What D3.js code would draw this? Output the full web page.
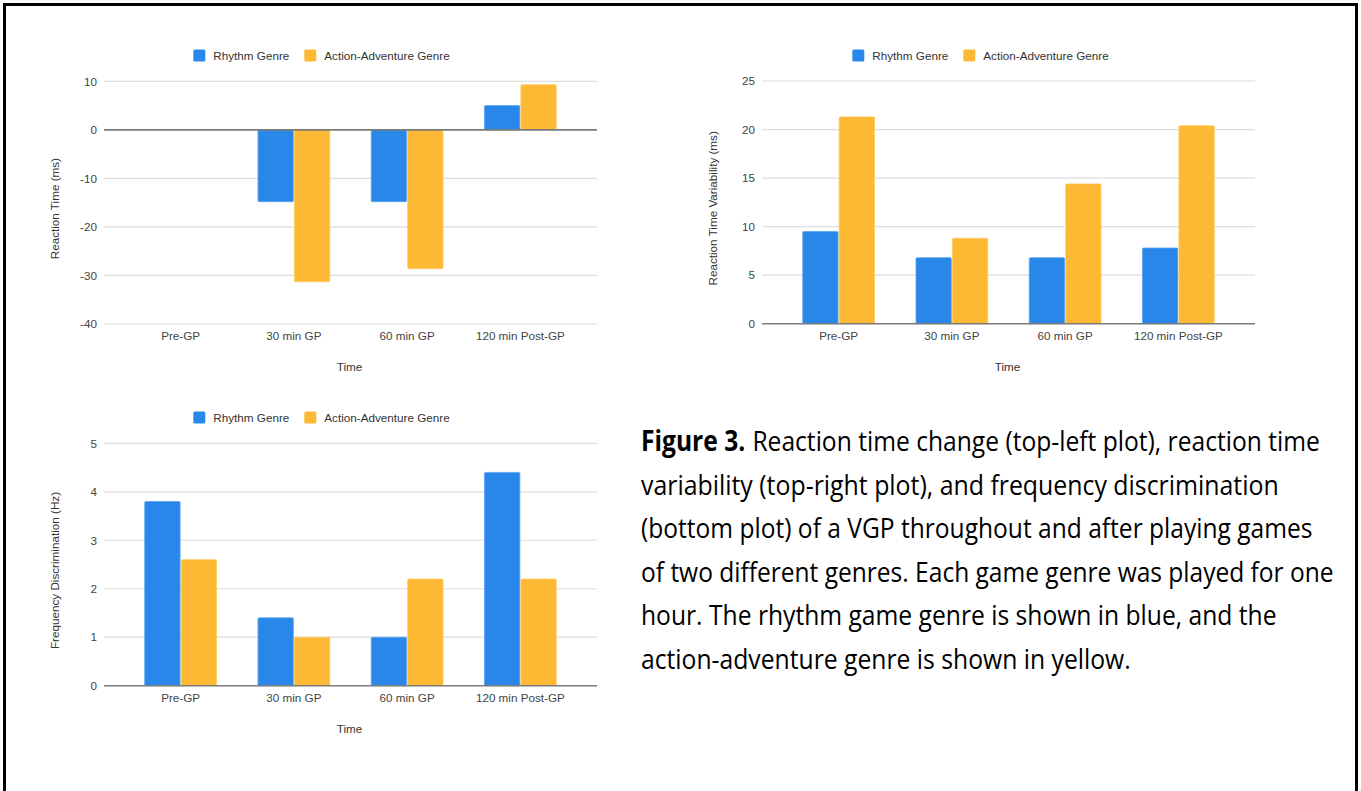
<!DOCTYPE html>
<html>
<head>
<meta charset="utf-8">
<script src="https://cdn.jsdelivr.net/npm/d3@7"></script>
<style>
  html, body { margin: 0; padding: 0; background: #fff; }
  svg { display: block; }
</style>
</head>
<body>
<svg id="fig" width="1361" height="791"></svg>
<script>
// ---------------- DATA ----------------
const categories = ["Pre-GP", "30 min GP", "60 min GP", "120 min Post-GP"];
const seriesNames = ["Rhythm Genre", "Action-Adventure Genre"];
const seriesColors = ["#2a87ea", "#fdb933"];

// Reaction time change (ms)
const rtRhythm = [0, -14.8, -14.8, 5.0];
const rtAction = [0, -31.3, -28.6, 9.3];
const rtTicks = [-40, -30, -20, -10, 0, 10];

// Reaction time variability (ms)
const rtvRhythm = [9.5, 6.8, 6.8, 7.8];
const rtvAction = [21.3, 8.8, 14.4, 20.4];
const rtvTicks = [0, 5, 10, 15, 20, 25];

// Frequency discrimination (Hz)
const fdRhythm = [3.8, 1.4, 1.0, 4.4];
const fdAction = [2.6, 1.0, 2.2, 2.2];
const fdTicks = [0, 1, 2, 3, 4, 5];

const xTitle = "Time";
const captionBold = "Figure 3.";
const captionLines = [
  "Reaction time change (top-left plot), reaction time",
  "variability (top-right plot), and frequency discrimination",
  "(bottom plot) of a VGP throughout and after playing games",
  "of two different genres. Each game genre was played for one",
  "hour. The rhythm game genre is shown in blue, and the",
  "action-adventure genre is shown in yellow."
];

// ---------------- DRAW ----------------
const svg = d3.select("#fig");
const FONT = "'Liberation Sans', Arial, Helvetica, sans-serif";
const FS = 11.7;

function drawChart(cfg) {
  const g = svg.append("g");
  const y = d3.scaleLinear().domain([cfg.ticks[0], cfg.ticks[cfg.ticks.length - 1]])
    .range([cfg.bottom, cfg.top]);
  const x0 = d3.scaleBand().domain(categories)
    .range([cfg.left + 20, cfg.right - 20])
    .paddingInner(0.366).paddingOuter(0.183);
  const x1 = d3.scaleBand().domain(seriesNames).range([0, x0.bandwidth()]).paddingInner(0.028);

  // gridlines
  g.append("g").selectAll("line").data(cfg.ticks.filter(t => t !== 0)).join("line")
    .attr("x1", cfg.left).attr("x2", cfg.right)
    .attr("y1", d => y(d)).attr("y2", d => y(d))
    .attr("stroke", "#dedede").attr("stroke-width", 1.2);

  // y axis labels
  const yAxis = d3.axisLeft(y).tickValues(cfg.ticks).tickFormat(d => String(d))
    .tickSize(0).tickPadding(7);
  const ya = g.append("g").attr("transform", `translate(${cfg.left},0)`).call(yAxis);
  ya.select(".domain").remove();
  ya.selectAll("text").attr("font-family", FONT).attr("font-size", FS).attr("fill", "#444");

  // bars
  const rows = categories.map((c, i) => ({ cat: c, vals: [cfg.a[i], cfg.b[i]] }));
  g.append("g").selectAll("g").data(rows).join("g")
    .attr("transform", d => `translate(${x0(d.cat)},0)`)
    .selectAll("rect").data(d => d.vals.map((v, k) => ({ v, k })).filter(e => e.v !== 0)).join("rect")
    .attr("x", d => x1(seriesNames[d.k]))
    .attr("width", x1.bandwidth())
    .attr("y", d => Math.min(y(d.v), y(0)))
    .attr("height", d => Math.abs(y(d.v) - y(0)))
    .attr("rx", 1.2)
    .attr("fill", d => seriesColors[d.k])
    .attr("stroke", d => d.k === 0 ? "#5aa3f0" : "#fecb63")
    .attr("stroke-width", 0.8);

  // zero line
  g.append("line").attr("x1", cfg.left).attr("x2", cfg.right)
    .attr("y1", y(0)).attr("y2", y(0))
    .attr("stroke", "#7b7b7b").attr("stroke-width", 1.6);

  // x labels
  const xAxis = d3.axisBottom(x0).tickSize(0).tickPadding(0);
  const xa = g.append("g").attr("transform", `translate(0,${cfg.xLabelY})`).call(xAxis);
  xa.select(".domain").remove();
  xa.selectAll("text").attr("font-family", FONT).attr("font-size", FS).attr("fill", "#444")
    .attr("dy", "0.35em").attr("y", 0);

  // x title
  g.append("text").attr("x", (cfg.left + cfg.right) / 2 - 1).attr("y", cfg.xTitleY)
    .attr("dy", "0.35em").attr("text-anchor", "middle")
    .attr("font-family", FONT).attr("font-size", FS).attr("fill", "#333").text(xTitle);

  // y title
  g.append("text")
    .attr("transform", `translate(${cfg.yTitleX},${(cfg.top + cfg.bottom) / 2 + 6}) rotate(-90)`)
    .attr("dy", "0.35em").attr("text-anchor", "middle")
    .attr("font-family", FONT).attr("font-size", FS).attr("fill", "#333").text(cfg.yTitle);

  // legend
  const lg = g.append("g");
  let cx = 0;
  seriesNames.forEach((name, k) => {
    const it = lg.append("g").attr("transform", `translate(${cx},0)`);
    it.append("rect").attr("x", 0).attr("y", -6).attr("width", 12).attr("height", 12)
      .attr("rx", 1.5).attr("fill", seriesColors[k]);
    const t = it.append("text").attr("x", 20).attr("y", 0).attr("dy", "0.35em")
      .attr("font-family", FONT).attr("font-size", FS).attr("fill", "#333").text(name);
    const w = t.node().getComputedTextLength();
    cx += 20 + w + (k < seriesNames.length - 1 ? 15 : 0);
  });
  lg.attr("transform", `translate(${cfg.legendCx - cx / 2},${cfg.legendY})`);
}

drawChart({
  a: rtRhythm, b: rtAction, ticks: rtTicks,
  left: 104, right: 597, top: 81.3, bottom: 324,
  legendY: 55.5, legendCx: 321.5, xLabelY: 336, xTitleY: 367, yTitleX: 55,
  yTitle: "Reaction Time (ms)"
});
drawChart({
  a: rtvRhythm, b: rtvAction, ticks: rtvTicks,
  left: 762, right: 1255, top: 81, bottom: 323.7,
  legendY: 55.5, legendCx: 980.5, xLabelY: 336, xTitleY: 367, yTitleX: 713,
  yTitle: "Reaction Time Variability (ms)"
});
drawChart({
  a: fdRhythm, b: fdAction, ticks: fdTicks,
  left: 104, right: 597, top: 443.3, bottom: 685.7,
  legendY: 417.5, legendCx: 321.5, xLabelY: 698, xTitleY: 729, yTitleX: 55,
  yTitle: "Frequency Discrimination (Hz)"
});

// caption: each line horizontally condensed to the reference line width
const capWidths = [679, 638, 672, 693, 636, 490];
const CAPFONT = "'Open Sans', 'Noto Sans', 'DejaVu Sans', sans-serif";
captionLines.forEach((line, i) => {
  const lineG = svg.append("g");
  const inner = lineG.append("g").attr("font-family", CAPFONT).attr("font-size", 28).attr("fill", "#000");
  let xOff = 0;
  if (i === 0) {
    const b = inner.append("text").attr("x", 0).attr("y", 0).attr("font-weight", "bold").text(captionBold);
    xOff = b.node().getComputedTextLength() + 8;
  }
  const t = inner.append("text").attr("x", xOff).attr("y", 0).attr("font-weight", 500).text(line);
  const natural = xOff + t.node().getComputedTextLength();
  const sx = capWidths[i] / natural;
  lineG.attr("transform", `translate(641,${451 + i * 43.5}) scale(${sx},1)`);
});

// frame
svg.append("rect").attr("x", 4.5).attr("y", 4.5).attr("width", 1352).attr("height", 820)
  .attr("fill", "none").attr("stroke", "#000").attr("stroke-width", 3);
</script>
</body>
</html>
